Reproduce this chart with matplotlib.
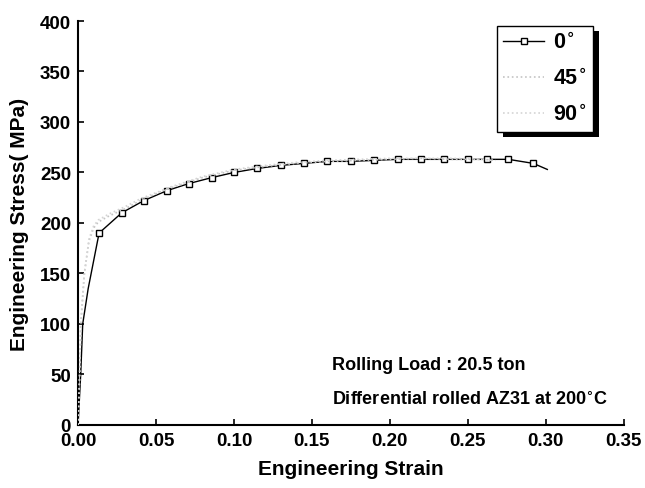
### engineering stress-strain curves, differential rolled AZ31
import matplotlib
matplotlib.use('Agg')
import matplotlib.pyplot as plt
from matplotlib.patches import Rectangle

plt.rcParams['font.family'] = ['Liberation Sans', 'DejaVu Sans']
plt.rcParams['font.weight'] = 'bold'

# 0 deg (black, square markers)
strain_0 = [0.0, 0.0017, 0.003, 0.0065, 0.0135, 0.028, 0.042, 0.057, 0.071, 0.086,
            0.100, 0.115, 0.130, 0.145, 0.160, 0.175, 0.190, 0.205, 0.220, 0.235,
            0.250, 0.262, 0.276, 0.292, 0.301]
stress_0 = [0, 50, 100, 135, 190, 210, 222, 232, 239, 245,
            250, 254, 257, 259, 261, 261, 262, 263, 263, 263,
            263, 263, 263, 259, 253]

# 45 deg (light grey, dotted)
strain_45 = [0.0, 0.001, 0.0017, 0.004, 0.007, 0.010, 0.013, 0.02, 0.03, 0.04, 0.05,
             0.06, 0.07, 0.08, 0.10, 0.12, 0.14, 0.16, 0.18, 0.20, 0.22, 0.24, 0.26, 0.268]
stress_45 = [0, 50, 100, 150, 182, 195, 201, 207, 214, 222, 229,
             235, 240, 245, 252, 256, 259, 261, 262, 263, 264, 263, 263, 262]

# 90 deg (light grey, dotted)
strain_90 = [0.0, 0.001, 0.0018, 0.004, 0.007, 0.010, 0.013, 0.02, 0.03, 0.04, 0.05,
             0.06, 0.07, 0.08, 0.10, 0.12, 0.14, 0.16, 0.18, 0.20, 0.22, 0.24, 0.26, 0.265]
stress_90 = [0, 48, 98, 148, 184, 197, 203, 209, 216, 224, 230,
             236, 241, 246, 253, 257, 260, 262, 263, 264, 264, 264, 263, 262]

x_ticks = [0.00, 0.05, 0.10, 0.15, 0.20, 0.25, 0.30, 0.35]
y_ticks = [0, 50, 100, 150, 200, 250, 300, 350, 400]

fig = plt.figure(figsize=(6.45, 4.89), dpi=100)
ax = fig.add_axes([0.121, 0.129, 0.846, 0.826])

ax.plot(strain_0, stress_0, '-', color='black', lw=1.0, marker='s', ms=5,
        mfc='white', mec='black', mew=1.0, markevery=slice(4, 24), label='0$^{\\circ}$', zorder=3)
ax.plot(strain_45, stress_45, ':', color='#c4c4c4', lw=1.2, label='45$^{\\circ}$', zorder=4)
ax.plot(strain_90, stress_90, ':', color='#d4d4d4', lw=1.2, label='90$^{\\circ}$', zorder=4)

ax.set_xlim(0, 0.35)
ax.set_ylim(0, 400)
ax.set_xticks(x_ticks)
ax.set_xticklabels(['%.2f' % v for v in x_ticks])
ax.set_yticks(y_ticks)
ax.tick_params(direction='in', length=4, width=1.2, labelsize=13.5, pad=5)
for lab in ax.get_xticklabels() + ax.get_yticklabels():
    lab.set_fontweight('bold')

ax.spines['top'].set_visible(False)
ax.spines['right'].set_visible(False)
ax.spines['left'].set_linewidth(1.5)
ax.spines['bottom'].set_linewidth(1.5)

ax.set_xlabel('Engineering Strain', fontsize=15, fontweight='bold', labelpad=7)
ax.set_ylabel('Engineering Stress( MPa)', fontsize=15, fontweight='bold', labelpad=8)

ax.text(0.163, 60, 'Rolling Load : 20.5 ton', fontsize=13, fontweight='bold', va='center')
ax.text(0.163, 25, 'Differential rolled AZ31 at 200$^{\\circ}$C', fontsize=13,
        fontweight='bold', va='center')

leg = ax.legend(loc='upper right', bbox_to_anchor=(0.943, 0.988), borderaxespad=0,
                fontsize=15.5, frameon=True, fancybox=False, edgecolor='black',
                framealpha=1, facecolor='white',
                handlelength=1.9, handletextpad=0.4, borderpad=0.3, labelspacing=0.7)
leg.get_frame().set_linewidth(1.0)
leg.set_zorder(10)

# black drop shadow behind legend box
fig.canvas.draw()
bb = leg.get_window_extent()
shadow = Rectangle((bb.x0 + 6, bb.y0 - 5), bb.width, bb.height, transform=None,
                   facecolor='black', edgecolor='none', zorder=9)
ax.add_artist(shadow)

fig.savefig('out.png', dpi=100)
